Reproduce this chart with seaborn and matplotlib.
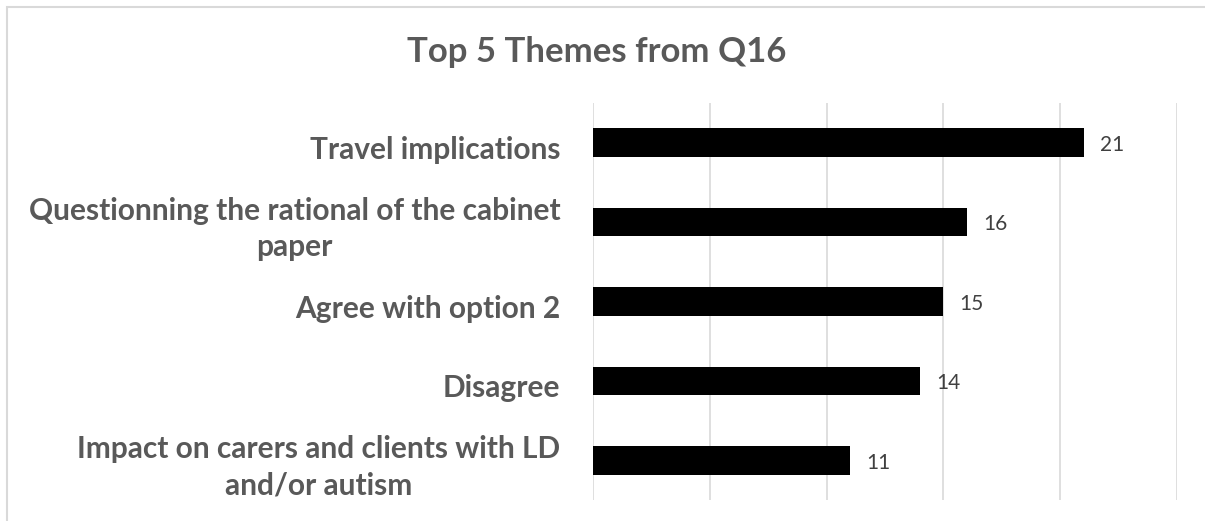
import matplotlib
matplotlib.use("Agg")
import matplotlib.pyplot as plt
import seaborn as sns
import pandas as pd
from matplotlib.patches import Rectangle

# Chart data
themes = [
    "Travel implications",
    "Questionning the rational of the cabinet\npaper",
    "Agree with option 2",
    "Disagree",
    "Impact on carers and clients with LD\nand/or autism",
]
counts = [21, 16, 15, 14, 11]
title = "Top 5 Themes from Q16"

sns.set_style("white")
plt.rcParams['font.family'] = ['Lato', 'DejaVu Sans']

df = pd.DataFrame({"theme": themes, "count": counts})

fig = plt.figure(figsize=(12.05, 5.21), dpi=100)
ax = fig.add_axes([593 / 1205, 1 - 500 / 521, (1177 - 593) / 1205, (500 - 103) / 521])

sns.barplot(data=df, x="count", y="theme", color="black", width=0.36,
            saturation=1, ax=ax, edgecolor="none")

ax.set_xlim(0, 25)
ax.set_xticks(range(0, 26, 5))
ax.set_xticklabels([])
ax.tick_params(axis="both", length=0)
ax.grid(axis="x", color="#D9D9D9", linewidth=1.2)
ax.set_axisbelow(True)
for s in ax.spines.values():
    s.set_visible(False)
ax.set_xlabel("")
ax.set_ylabel("")

ax.set_yticklabels([])
for i, (t, v) in enumerate(zip(themes, counts)):
    ax.text(-1.4, i + 0.09, t, ha="right", va="center", multialignment="center",
            fontsize=21.5, fontweight="bold", color="#595959",
            linespacing=1.35)
    ax.text(v + 0.7, i + 0.03, str(v), ha="left", va="center", fontsize=15,
            color="#404040")

fig.text(597 / 1205, 1 - 52 / 521, title, ha="center", va="center",
         fontsize=25, fontweight="bold", color="#595959")

# chart area border
fig.patches.append(Rectangle((7 / 1205, -0.05), 1.1, 1 - 7 / 521 + 0.05,
                             transform=fig.transFigure, fill=False,
                             edgecolor="#D9D9D9", linewidth=1.5))

fig.savefig("out.png", dpi=100, facecolor="white")
